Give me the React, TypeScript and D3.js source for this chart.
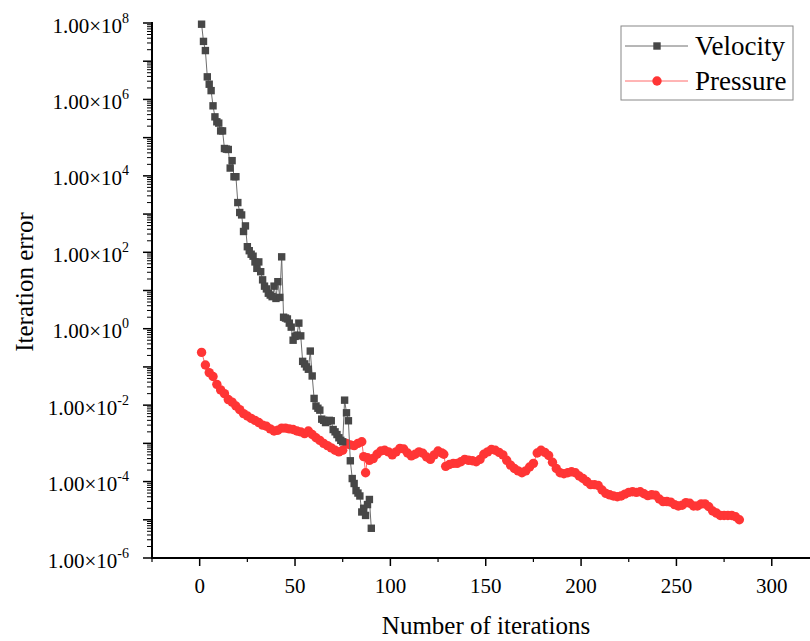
import React from "react";
import * as d3 from "d3";

// ---- data ----
const velocityIter = [
  1, 2, 3, 4, 5, 6, 7, 8, 9, 10, 11, 12, 13, 14, 15, 16, 17, 18, 19, 20,
  21, 22, 23, 24, 25, 26, 27, 28, 29, 30, 31, 32, 33, 34, 35, 36, 37, 38, 39, 40,
  41, 42, 43, 44, 45, 46, 47, 48, 49, 50, 51, 52, 53, 54, 55, 56, 57, 58, 59, 60,
  61, 62, 63, 64, 65, 66, 67, 68, 69, 70, 71, 72, 73, 74, 75, 76, 77, 78, 79, 80,
  81, 82, 83, 84, 85, 86, 87, 88, 89, 90,
];
const velocityError = [
  9.3e7, 3.3e7, 1.9e7, 3.9e6, 2.5e6, 1.7e6, 6.8e5, 3.5e5, 2.6e5, 2.4e5,
  1.5e5, 1.5e5, 5.2e4, 5.0e4, 4.9e4, 1.6e4, 2.5e4, 9.5e3, 9.5e3, 2.0e3,
  1.1e3, 9.5e2, 3.5e2, 4.9e2, 1.4e2, 1.1e2, 89, 79, 56, 38,
  56, 31, 19, 13, 11, 8.5, 7.6, 6.9, 13, 6.2,
  17, 6.6, 76, 2.0, 1.9, 1.8, 1.4, 1.1, 0.5, 0.63,
  0.68, 1.4, 0.65, 0.14, 0.12, 0.1, 0.087, 0.26, 0.058, 0.015,
  9.5e-3, 8.3e-3, 7.4e-3, 4.3e-3, 4.0e-3, 3.5e-3, 3.7e-3, 4.0e-3, 3.9e-3, 2.3e-3,
  2.0e-3, 1.7e-3, 1.4e-3, 1.2e-3, 1.1e-3, 1.35e-2, 6.3e-3, 3.9e-3, 3.5e-4, 1.2e-4,
  8.9e-5, 5.8e-5, 5.0e-5, 4.2e-5, 1.6e-5, 2.0e-5, 1.3e-5, 2.5e-5, 3.4e-5, 6.0e-6,
];

const pressureIter = [
  1, 3, 5, 7, 9, 11, 13, 15, 17, 19, 21, 23, 25, 27, 29, 31, 33, 35, 37, 39,
  41, 43, 45, 47, 49, 51, 53, 55, 57, 59, 61, 63, 65, 67, 69, 71, 73, 75, 77, 79,
  81, 83, 85, 86, 87, 88, 89, 91, 93, 95, 97, 99, 101, 103, 105, 107, 109, 111, 113, 115,
  117, 119, 121, 123, 125, 127, 128, 129, 131, 133, 135, 137, 139, 141, 143, 145, 147, 149, 151, 153,
  155, 157, 159, 161, 163, 165, 167, 169, 171, 173, 175, 177, 179, 181, 183, 185, 187, 189, 191, 193,
  195, 197, 199, 201, 203, 205, 207, 209, 211, 213, 215, 217, 219, 221, 223, 225, 227, 229, 231, 233,
  235, 237, 239, 241, 243, 245, 247, 249, 251, 253, 255, 257, 259, 261, 263, 265, 267, 269, 271, 273,
  275, 277, 279, 281, 283,
];
const pressureError = [
  2.4e-1, 1.12e-1, 7.1e-2, 5.6e-2, 3.5e-2, 2.5e-2, 2.0e-2, 1.4e-2, 1.2e-2, 9.5e-3,
  7.6e-3, 6.0e-3, 5.2e-3, 4.5e-3, 4.0e-3, 3.5e-3, 3.0e-3, 2.8e-3, 2.4e-3, 2.1e-3,
  2.2e-3, 2.5e-3, 2.5e-3, 2.4e-3, 2.3e-3, 2.1e-3, 2.0e-3, 1.8e-3, 2.1e-3, 1.7e-3,
  1.4e-3, 1.2e-3, 1.0e-3, 8.7e-4, 7.6e-4, 6.6e-4, 6.0e-4, 6.6e-4, 1.0e-3, 9.1e-4,
  8.7e-4, 1.0e-3, 1.1e-3, 4.5e-4, 1.7e-4, 4.2e-4, 3.6e-4, 4.0e-4, 5.2e-4, 6.3e-4,
  6.6e-4, 6.0e-4, 5.0e-4, 6.0e-4, 7.4e-4, 7.1e-4, 5.6e-4, 4.7e-4, 5.2e-4, 6.0e-4,
  5.5e-4, 4.4e-4, 3.8e-4, 5.0e-4, 6.3e-4, 5.6e-4, 5.2e-4, 2.5e-4, 2.8e-4, 3.0e-4,
  3.0e-4, 3.3e-4, 3.8e-4, 3.6e-4, 3.5e-4, 3.3e-4, 3.8e-4, 5.2e-4, 6.0e-4, 6.9e-4,
  6.6e-4, 5.8e-4, 5.0e-4, 3.6e-4, 2.7e-4, 2.2e-4, 1.9e-4, 1.7e-4, 1.9e-4, 2.4e-4,
  3.0e-4, 5.6e-4, 6.6e-4, 5.8e-4, 4.8e-4, 3.2e-4, 2.2e-4, 1.7e-4, 1.6e-4, 1.7e-4,
  1.8e-4, 1.7e-4, 1.4e-4, 1.2e-4, 1.0e-4, 8.3e-5, 8.3e-5, 7.9e-5, 6.0e-5, 4.9e-5,
  4.5e-5, 4.2e-5, 4.0e-5, 4.2e-5, 4.7e-5, 5.2e-5, 5.4e-5, 5.2e-5, 5.4e-5, 4.8e-5,
  4.3e-5, 4.5e-5, 4.4e-5, 3.5e-5, 3.0e-5, 3.0e-5, 2.9e-5, 2.5e-5, 2.3e-5, 2.4e-5,
  2.8e-5, 2.7e-5, 2.3e-5, 2.3e-5, 2.6e-5, 2.6e-5, 2.2e-5, 1.7e-5, 1.5e-5, 1.3e-5,
  1.3e-5, 1.3e-5, 1.3e-5, 1.2e-5, 1.0e-5,
];

const xTickValues = [0, 50, 100, 150, 200, 250, 300];
const xMinorValues = [-25, 25, 75, 125, 175, 225, 275];
const yLabelExponents = [8, 6, 4, 2, 0, -2, -4, -6];
const seriesNames = ["Velocity", "Pressure"];
const xTitle = "Number of iterations";
const yTitle = "Iteration error";

// ---- layout ----
const W = 810;
const H = 641;
const left = 152;
const bottom = 558;
const top = 23;
const FONT = "'Liberation Serif', 'Times New Roman', serif";
const VEL_COLOR = "#474747";
const VEL_LINE = "#6e6e6e";
const PRES_COLOR = "#ff3535";
const PRES_LINE = "#ff6a6a";

export default function App() {
  const x = d3.scaleLinear().domain([-25, 325]).range([left, left + 350 * 1.907]);
  const y = d3.scaleLog().domain([1e-6, 1e8]).range([bottom, top]);

  const velPts = velocityIter.map((it, i) => [x(it), y(velocityError[i])] as [number, number]);
  const presPts = pressureIter.map((it, i) => [x(it), y(pressureError[i])] as [number, number]);
  const line = d3.line();

  const decades = d3.range(-6, 9);
  const minorY: number[] = [];
  decades.slice(0, -1).forEach((e) => {
    for (let m = 2; m <= 9; m++) minorY.push(m * Math.pow(10, e));
  });

  return (
    <svg
      width={W}
      height={H}
      style={{ position: "absolute", left: 0, top: 0, background: "#fff" }}
      fontFamily={FONT}
    >
      <rect x={0} y={0} width={W} height={H} fill="#fff" />

      {/* pressure series */}
      <path d={line(presPts) || ""} fill="none" stroke={PRES_LINE} strokeWidth={1} />
      {presPts.map((p, i) => (
        <circle key={"p" + i} cx={p[0]} cy={p[1]} r={4.7} fill={PRES_COLOR} />
      ))}

      {/* velocity series */}
      <path d={line(velPts) || ""} fill="none" stroke={VEL_LINE} strokeWidth={1} />
      {velPts.map((p, i) => (
        <rect key={"v" + i} x={p[0] - 3.7} y={p[1] - 3.7} width={7.4} height={7.4} fill={VEL_COLOR} />
      ))}

      {/* y axis */}
      <line x1={left} x2={left} y1={top - 1} y2={bottom + 1} stroke="#000" strokeWidth={2} />
      {decades.map((e) => (
        <line key={"yd" + e} x1={left - 9} x2={left} y1={y(Math.pow(10, e))} y2={y(Math.pow(10, e))} stroke="#000" strokeWidth={1.5} />
      ))}
      {minorY.map((v, i) => (
        <line key={"ym" + i} x1={left - 5} x2={left} y1={y(v)} y2={y(v)} stroke="#000" strokeWidth={1} />
      ))}
      {yLabelExponents.map((e) => (
        <text key={"yl" + e} x={129} y={y(Math.pow(10, e)) + 9.5} textAnchor="end" fontSize={21} fill="#000">
          1.00×10
          <tspan fontSize={14} dy={-10}>{e}</tspan>
        </text>
      ))}

      {/* x axis */}
      <line x1={left - 1} x2={W} y1={bottom} y2={bottom} stroke="#000" strokeWidth={2} />
      {xTickValues.map((v) => (
        <line key={"xt" + v} x1={x(v)} x2={x(v)} y1={bottom} y2={bottom + 8} stroke="#000" strokeWidth={1.5} />
      ))}
      {xMinorValues.map((v) => (
        <line key={"xm" + v} x1={x(v)} x2={x(v)} y1={bottom} y2={bottom + 4} stroke="#000" strokeWidth={1.2} />
      ))}
      {xTickValues.map((v) => (
        <text key={"xl" + v} x={x(v)} y={593} textAnchor="middle" fontSize={21} fill="#000">
          {v}
        </text>
      ))}

      {/* titles */}
      <text x={486} y={634} textAnchor="middle" fontSize={25} fill="#000">
        {xTitle}
      </text>
      <text transform={`translate(33, 282) rotate(-90)`} textAnchor="middle" fontSize={25} fill="#000">
        {yTitle}
      </text>

      {/* legend */}
      <rect x={621} y={26} width={172} height={74} fill="#fff" stroke="#888" strokeWidth={1} />
      <line x1={625} x2={688} y1={46} y2={46} stroke={VEL_LINE} strokeWidth={1} />
      <rect x={657 - 3.7} y={46 - 3.7} width={7.4} height={7.4} fill={VEL_COLOR} />
      <text x={695} y={55} fontSize={27} fill="#000">{seriesNames[0]}</text>
      <line x1={625} x2={688} y1={81} y2={81} stroke={PRES_LINE} strokeWidth={1} />
      <circle cx={657} cy={81} r={4.7} fill={PRES_COLOR} />
      <text x={695} y={90} fontSize={27} fill="#000">{seriesNames[1]}</text>
    </svg>
  );
}
